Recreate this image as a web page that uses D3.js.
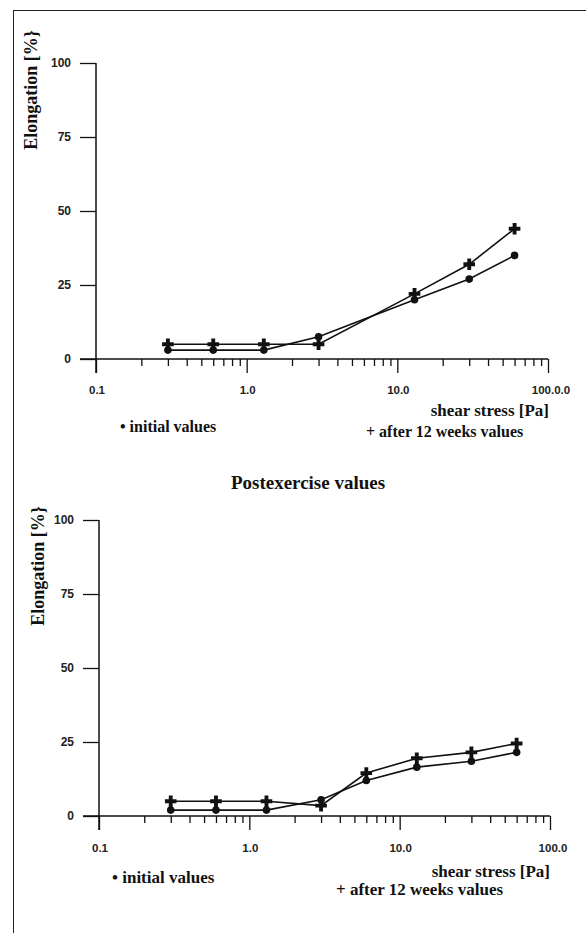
<!DOCTYPE html>
<html><head><meta charset="utf-8">
<script src="https://cdn.jsdelivr.net/npm/d3@7"></script>
<style>
html,body{margin:0;padding:0;background:#fff;}
svg{display:block;}
</style></head>
<body>
<script>
// ---- data ----
const yTicks = [0, 25, 50, 75, 100];
const xMajor = [0.1, 1, 10, 100];
const xTickLabelsTop = ["0.1", "1.0", "10.0", "100.0.0"];
const xTickLabelsBottom = ["0.1", "1.0", "10.0", "100.0"];

const shearTop = [0.3, 0.6, 1.3, 3, 13, 30, 60];
const initialTop = [3, 3, 3, 7.5, 20, 27, 35];
const afterTop = [5, 5, 5, 5, 22, 32, 44];

const shearBottom = [0.3, 0.6, 1.3, 3, 6, 13, 30, 60];
const initialBottom = [2, 2, 2, 5.5, 12, 16.5, 18.5, 21.5];
const afterBottom = [5, 5, 5, 3.5, 14.5, 19.5, 21.5, 24.5];

const titleBottom = "Postexercise values";
const yTitle = "Elongation [%}";
const xTitle = "shear stress [Pa]";
const legendInitial = "• initial values";
const legendAfter = "+ after 12 weeks values";

// ---- drawing ----
const W = 586, H = 933;
const svg = d3.select("body").append("svg").attr("width", W).attr("height", H);
svg.append("rect").attr("x", 13.5).attr("y", 10.5).attr("width", W + 20).attr("height", H + 20)
  .attr("fill", "none").attr("stroke", "#222").attr("stroke-width", 1);

const serif = "'Liberation Serif', 'Times New Roman', serif";
const sans = "'Liberation Sans', Arial, sans-serif";

function minorTicks() {
  const v = [];
  [0.1, 1, 10].forEach(d => { for (let k = 1; k <= 10; k++) v.push(+(d * k).toPrecision(3)); });
  return Array.from(new Set(v));
}

function drawPanel(cfg, xs, init, after, labels) {
  const x = d3.scaleLog().domain([0.1, 100]).range([cfg.x0, cfg.x1]);
  const y = d3.scaleLinear().domain([0, 100]).range([cfg.y0, cfg.y100]);
  const g = svg.append("g");

  // x axis
  const xa = g.append("g").attr("transform", `translate(0,${cfg.y0})`)
    .call(d3.axisBottom(x).tickValues(minorTicks()).tickSize(7).tickFormat(""));
  xa.select(".domain").remove();
  xa.selectAll(".tick line").attr("stroke", "#111").attr("stroke-width", 1.3)
    .attr("y2", d => xMajor.some(m => Math.abs(m - d) < 1e-9) ? 14 : 7);
  g.append("line").attr("x1", cfg.x0 - 16).attr("x2", x(100)).attr("y1", cfg.y0).attr("y2", cfg.y0)
    .attr("stroke", "#111").attr("stroke-width", 1.3);
  // x tick labels
  g.selectAll(".xl").data(xMajor).enter().append("text")
    .attr("x", (d, i) => x(d) + (i === 3 ? 3 : 1)).attr("y", cfg.y0 + cfg.xlabDy)
    .attr("text-anchor", "middle").attr("font-family", sans).attr("font-size", 11.5)
    .attr("font-weight", "bold").attr("fill", "#222")
    .text((d, i) => labels[i]);

  // y axis
  const ya = g.append("g").attr("transform", `translate(${cfg.x0},0)`)
    .call(d3.axisLeft(y).tickValues(yTicks).tickSize(16).tickPadding(9));
  ya.select(".domain").remove();
  ya.selectAll(".tick line").attr("stroke", "#111").attr("stroke-width", 1.3);
  ya.selectAll(".tick text").attr("font-family", sans).attr("font-size", 12)
    .attr("font-weight", "bold").attr("fill", "#222");
  g.append("line").attr("x1", cfg.x0).attr("x2", cfg.x0).attr("y1", cfg.y100).attr("y2", cfg.y0 + 14)
    .attr("stroke", "#111").attr("stroke-width", 1.5);

  // y title
  g.append("text").attr("transform", `translate(${cfg.ytX},${cfg.ytY}) rotate(-90)`)
    .attr("text-anchor", "middle").attr("font-family", serif).attr("font-weight", "bold")
    .attr("font-size", 18).attr("fill", "#111").text(yTitle);

  // lines
  const line = d3.line().x(d => x(d[0])).y(d => y(d[1]));
  const dInit = xs.map((v, i) => [v, init[i]]);
  const dAfter = xs.map((v, i) => [v, after[i]]);
  [dInit, dAfter].forEach(d => g.append("path").datum(d).attr("d", line)
    .attr("fill", "none").attr("stroke", "#111").attr("stroke-width", 1.6));
  g.selectAll(".dot").data(dInit).enter().append("circle")
    .attr("cx", d => x(d[0])).attr("cy", d => y(d[1])).attr("r", 3.8).attr("fill", "#111");
  const plus = d3.symbol().type(d3.symbolCross).size(75);
  g.selectAll(".plus").data(dAfter).enter().append("path")
    .attr("d", plus).attr("transform", d => `translate(${x(d[0])},${y(d[1])})`)
    .attr("fill", "#111");

  // x title + legend
  g.append("text").attr("x", cfg.xtX).attr("y", cfg.xtY).attr("text-anchor", "end")
    .attr("font-family", serif).attr("font-weight", "bold").attr("font-size", 17)
    .attr("fill", "#111").text(xTitle);
  g.append("text").attr("x", cfg.l1X).attr("y", cfg.l1Y)
    .attr("font-family", serif).attr("font-weight", "bold").attr("font-size", cfg.lfs)
    .attr("fill", "#111").text(legendInitial);
  g.append("text").attr("x", cfg.l2X).attr("y", cfg.l2Y)
    .attr("font-family", serif).attr("font-weight", "bold").attr("font-size", cfg.lfs)
    .attr("fill", "#111").text(legendAfter);
}

drawPanel({x0: 96, x1: 548, y0: 359, y100: 63, xlabDy: 35, ytX: 37, ytY: 90,
  xtX: 549, xtY: 416, l1X: 120, l1Y: 432, l2X: 366, l2Y: 437, lfs: 16},
  shearTop, initialTop, afterTop, xTickLabelsTop);

svg.append("text").attr("x", 308).attr("y", 489).attr("text-anchor", "middle")
  .attr("font-family", serif).attr("font-weight", "bold").attr("font-size", 19)
  .attr("fill", "#111").text(titleBottom);

drawPanel({x0: 99, x1: 550, y0: 816, y100: 520, xlabDy: 36, ytX: 44, ytY: 566,
  xtX: 550, xtY: 877, l1X: 112, l1Y: 883, l2X: 336, l2Y: 895, lfs: 17},
  shearBottom, initialBottom, afterBottom, xTickLabelsBottom);
</script>
</body></html>
